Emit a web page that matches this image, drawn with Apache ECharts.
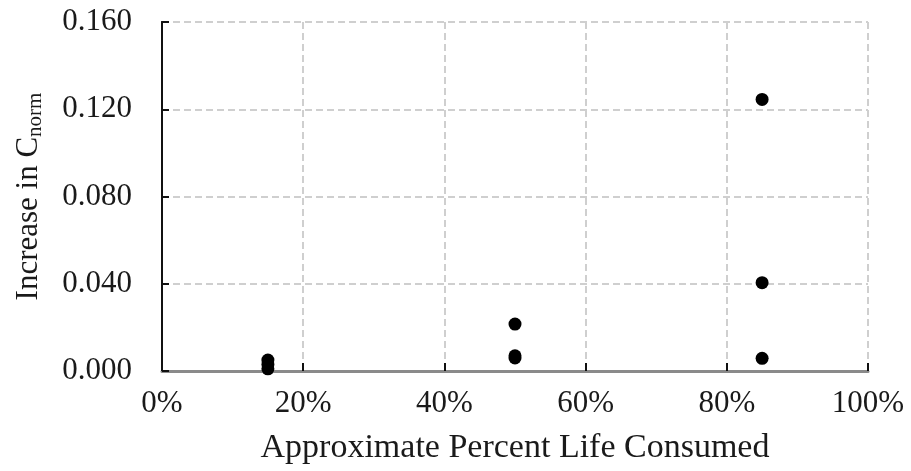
<!DOCTYPE html>
<html>
<head>
<meta charset="utf-8">
<script src="https://cdn.jsdelivr.net/npm/echarts@6/dist/echarts.min.js"></script>
<style>
  html, body { margin: 0; padding: 0; background: #ffffff; }
  #chart { width: 911px; height: 471px; }
</style>
</head>
<body>
<div id="chart"></div>
<script>
// Percent of life consumed (x) and the measured increase in C_norm (y)
var lifeConsumed = [15, 15, 15, 50, 50, 50, 85, 85, 85];
var cnormIncrease = [0.005, 0.003, 0.001, 0.0215, 0.007, 0.006, 0.1245, 0.0405, 0.0058];

// Axis tick settings
var xTicks = { min: 0, max: 100, interval: 20 };
var yTicks = { min: 0, max: 0.16, interval: 0.04 };

var points = lifeConsumed.map(function (x, i) { return [x, cnormIncrease[i]]; });

var serif = '"Liberation Serif", "Times New Roman", serif';
var gridDash = { color: '#cfcfcf', width: 2, type: [7, 4] };

var chart = echarts.init(document.getElementById('chart'), null, { renderer: 'canvas' });
chart.setOption({
  animation: false,
  backgroundColor: '#ffffff',
  grid: { left: 162, right: 43, top: 22, bottom: 100, containLabel: false },
  xAxis: [
    {
      type: 'value',
      position: 'bottom',
      min: xTicks.min, max: xTicks.max, interval: xTicks.interval,
      name: 'Approximate Percent Life Consumed',
      nameLocation: 'middle',
      nameGap: 60,
      nameTextStyle: { fontFamily: serif, fontSize: 34, color: '#1a1a1a' },
      axisLine: { show: true, lineStyle: { color: '#8a8a8a', width: 3 } },
      axisTick: { show: true, inside: true, length: 8, lineStyle: { color: '#111', width: 2 } },
      axisLabel: {
        margin: 17,
        fontFamily: serif, fontSize: 31, color: '#1a1a1a',
        formatter: function (v) { return v + '%'; }
      },
      splitLine: { show: true, lineStyle: gridDash }
    },
    {
      type: 'value',
      position: 'top',
      min: xTicks.min, max: xTicks.max,
      axisLine: { show: true, lineStyle: { color: '#8a8a8a', width: 2 } },
      axisTick: { show: false },
      axisLabel: { show: false },
      splitLine: { show: false }
    }
  ],
  yAxis: [
    {
      type: 'value',
      position: 'left',
      min: yTicks.min, max: yTicks.max, interval: yTicks.interval,
      name: 'Increase in C{sub|norm}',
      nameLocation: 'middle',
      nameGap: 116,
      nameRotate: 90,
      nameTextStyle: {
        fontFamily: serif, fontSize: 31, color: '#1a1a1a',
        rich: {
          sub: { fontFamily: serif, fontSize: 21, color: '#1a1a1a', verticalAlign: 'bottom', padding: [14, 0, 0, 0] }
        }
      },
      axisLine: { show: true, lineStyle: { color: '#111', width: 2 } },
      axisTick: { show: true, inside: true, length: 7, lineStyle: { color: '#111', width: 2 } },
      axisLabel: {
        margin: 30,
        fontFamily: serif, fontSize: 31, color: '#1a1a1a',
        formatter: function (v) { return v.toFixed(3); }
      },
      splitLine: { show: true, lineStyle: gridDash }
    },
    {
      type: 'value',
      position: 'right',
      min: yTicks.min, max: yTicks.max,
      axisLine: { show: true, lineStyle: { color: '#111', width: 2 } },
      axisTick: { show: false },
      axisLabel: { show: false },
      splitLine: { show: false }
    }
  ],
  series: [
    {
      type: 'scatter',
      xAxisIndex: 0,
      yAxisIndex: 0,
      data: points,
      symbol: 'circle',
      symbolSize: 13,
      itemStyle: { color: '#000000', opacity: 1 },
      z: 5
    }
  ]
});
</script>
</body>
</html>
